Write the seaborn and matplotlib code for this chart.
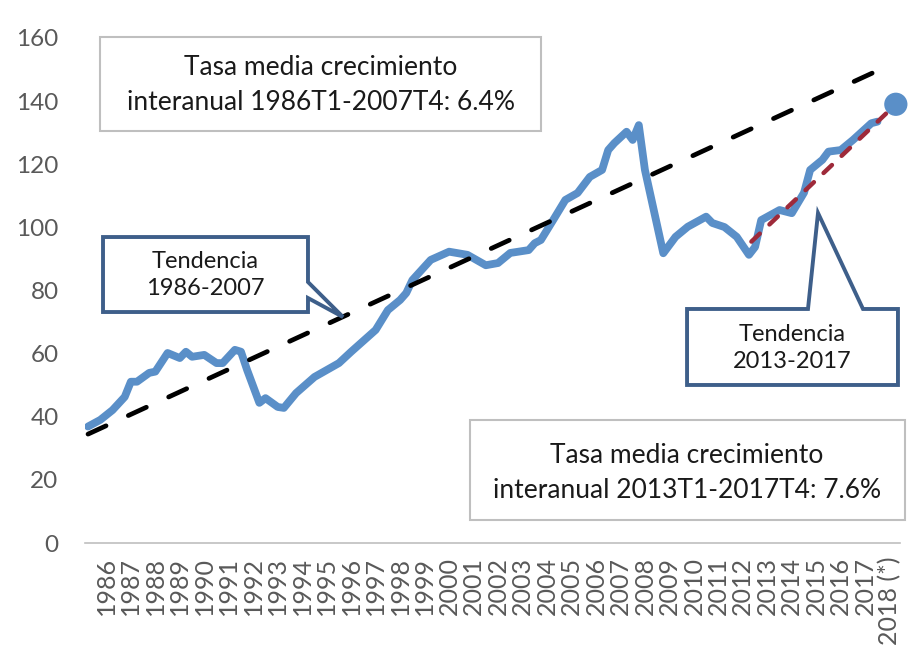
import matplotlib
matplotlib.use("Agg")
import matplotlib.pyplot as plt
import seaborn as sns
from matplotlib.patches import Polygon, Rectangle

# serie (fecha en años decimales, valor)
fechas = [1986.0, 1986.5, 1987.0, 1987.5, 1987.75, 1988.0, 1988.5, 1988.75,
          1989.25, 1989.75, 1990.0, 1990.25, 1990.75, 1991.25, 1991.5, 1992.0,
          1992.25, 1992.5, 1993.0, 1993.25, 1993.75, 1994.0, 1994.5, 1995.25,
          1996.25, 1996.75, 1997.75, 1998.25, 1998.75, 1999.0, 1999.25, 2000.0,
          2000.75, 2001.5, 2002.25, 2002.75, 2003.25, 2004.0, 2004.25, 2004.5,
          2005.0, 2005.5, 2006.0, 2006.5, 2007.0, 2007.25, 2007.5, 2008.0,
          2008.25, 2008.5, 2008.75, 2009.5, 2010.0, 2010.5, 2011.25, 2011.5,
          2012.0, 2012.5, 2013.0, 2013.25, 2013.5, 2014.25, 2014.75, 2015.25,
          2015.5, 2016.0, 2016.25, 2016.75, 2017.25, 2018.0, 2018.25]
valores = [36.9, 39.0, 42.1, 46.3, 51.1, 51.1, 53.9, 54.3,
           60.2, 58.6, 60.6, 59.0, 59.6, 57.0, 57.0, 61.2,
           60.6, 54.8, 44.4, 45.9, 43.1, 42.8, 47.5, 52.6,
           57.0, 60.6, 67.5, 73.8, 77.0, 79.2, 83.3, 89.7,
           92.3, 91.3, 88.0, 88.7, 91.9, 92.8, 95.0, 96.0,
           102.3, 108.7, 110.9, 116.0, 118.2, 124.5, 126.7, 130.3,
           127.7, 132.4, 118.2, 91.8, 97.0, 100.2, 103.4, 101.4,
           100.1, 97.0, 91.3, 93.8, 102.3, 105.5, 104.5, 111.0,
           118.2, 121.4, 124.0, 124.5, 127.7, 133.0, 133.5]

# dato 2018 (*)
fecha_2018 = 2019.0
valor_2018 = 139.0

# lineas de tendencia
tend1_fechas = [1986.0, 2018.35]
tend1_valores = [34.5, 150.0]
tend2_fechas = [2013.1, 2019.0]
tend2_valores = [95.5, 139.0]

anios = list(range(1986, 2019))
etiquetas = [str(a) for a in anios[:-1]] + ["2018 (*)"]

azul = "#5A8FC8"
rojo = "#9E2A3A"
azul_osc = "#3E5F8A"
gris = "#595959"

sns.set_theme(style="white")
plt.rcParams["font.family"] = ["Lato", "DejaVu Sans"]

fig = plt.figure(figsize=(9.1, 6.54), dpi=100)
ax = fig.add_axes([85 / 910, 1 - 543 / 654, 815 / 910, 505 / 654])

sns.lineplot(x=fechas, y=valores, ax=ax, color=azul, lw=5.6, zorder=2,
             solid_joinstyle="round", solid_capstyle="round")
sns.lineplot(x=tend1_fechas, y=tend1_valores, ax=ax, color="black", lw=3.4,
             linestyle=(0, (4.2, 5.2)), dash_capstyle="round", zorder=3)
sns.lineplot(x=tend2_fechas, y=tend2_valores, ax=ax, color=rojo, lw=3.2,
             linestyle=(0, (2.6, 3.0)), dash_capstyle="round", zorder=3)
sns.scatterplot(x=[fecha_2018], y=[valor_2018], ax=ax, color=azul, s=280,
                edgecolor="none", zorder=4, clip_on=False)

ax.set_xlim(1985.877, 2019.17)
ax.set_ylim(0, 160)
ax.set_yticks(range(0, 161, 20))
ax.set_xticks([a + 0.75 for a in anios])
ax.set_xticklabels(etiquetas, rotation=90, va="top", ha="center")
ax.tick_params(axis="y", length=0, pad=19, labelsize=17.5, labelcolor=gris)
ax.tick_params(axis="x", length=0, pad=10, labelsize=18, labelcolor=gris)
for s in ["top", "right", "left"]:
    ax.spines[s].set_visible(False)
ax.spines["bottom"].set_color("#BFBFBF")
ax.spines["bottom"].set_linewidth(1.2)

# cuadros de texto
ax.add_patch(Rectangle((0.0184, 0.8158), 0.5411, 0.186, transform=ax.transAxes,
                       facecolor="white", edgecolor="#BFBFBF", lw=1.5,
                       clip_on=False, zorder=5))
ax.text(0.289, 0.9069, "Tasa media crecimiento\ninteranual 1986T1-2007T4: 6.4%",
        transform=ax.transAxes, ha="center", va="center", fontsize=19,
        linespacing=1.5, color="#1a1a1a", zorder=6)

ax.add_patch(Rectangle((0.4724, 0.0455), 0.5336, 0.1981, transform=ax.transAxes,
                       facecolor="white", edgecolor="#BFBFBF", lw=1.5,
                       clip_on=False, zorder=5))
ax.text(0.7387, 0.1386, "Tasa media crecimiento\ninteranual 2013T1-2017T4: 7.6%",
        transform=ax.transAxes, ha="center", va="center", fontsize=19,
        linespacing=1.5, color="#1a1a1a", zorder=6)

# llamadas "Tendencia"
llamada1 = [(0.0221, 0.6059), (0.2736, 0.6059), (0.2736, 0.5168), (0.3166, 0.4475),
            (0.2736, 0.4851), (0.2736, 0.4574), (0.0221, 0.4574)]
ax.add_patch(Polygon(llamada1, closed=True, transform=ax.transAxes, facecolor="white",
                     edgecolor=azul_osc, lw=2.8, joinstyle="miter", clip_on=False, zorder=5))
ax.text(0.1479, 0.5307, "Tendencia\n1986-2007", transform=ax.transAxes, ha="center",
        va="center", fontsize=17, linespacing=1.3, color="#1a1a1a", zorder=6)

llamada2 = [(0.7387, 0.4634), (0.8871, 0.4634), (0.8994, 0.6535), (0.9546, 0.4634),
            (0.9975, 0.4634), (0.9975, 0.3129), (0.7387, 0.3129)]
ax.add_patch(Polygon(llamada2, closed=True, transform=ax.transAxes, facecolor="white",
                     edgecolor=azul_osc, lw=2.8, joinstyle="miter", clip_on=False, zorder=5))
ax.text(0.8681, 0.3861, "Tendencia\n2013-2017", transform=ax.transAxes, ha="center",
        va="center", fontsize=17, linespacing=1.3, color="#1a1a1a", zorder=6)

fig.savefig("out.png", dpi=100)
